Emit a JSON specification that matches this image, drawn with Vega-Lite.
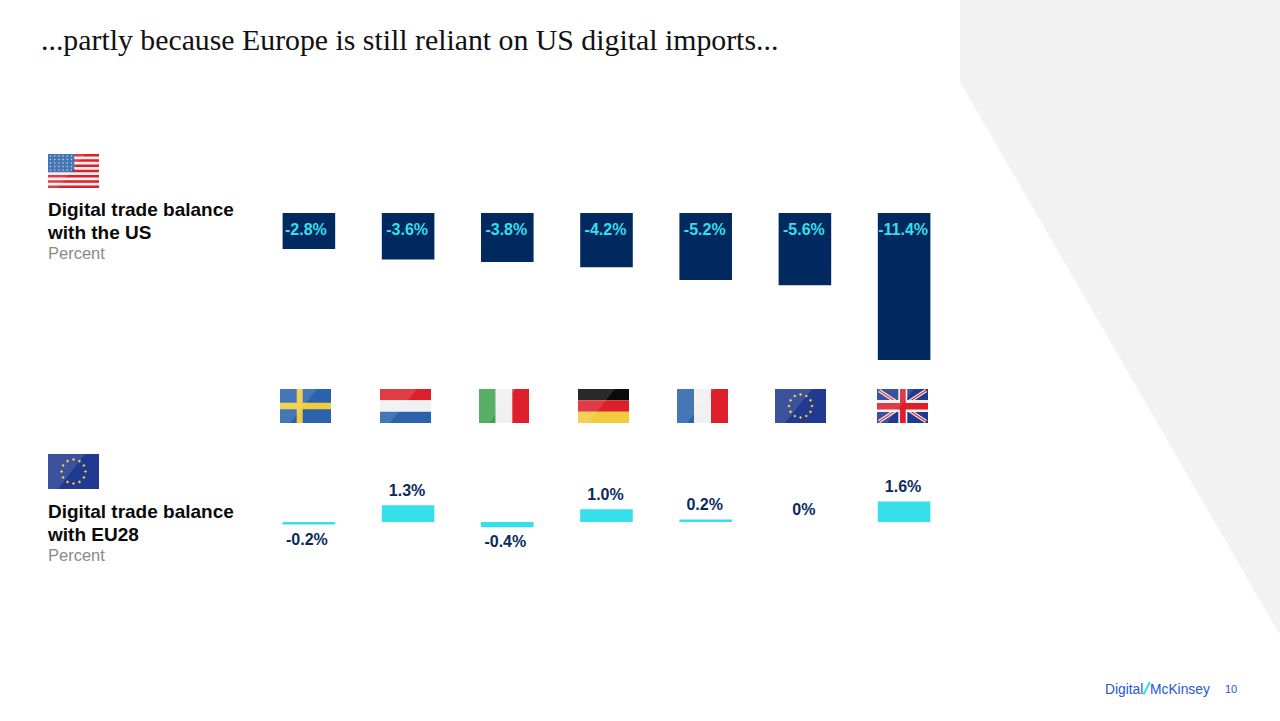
{"$schema":"https://vega.github.io/schema/vega-lite/v6.json","width":1280,"height":721,"padding":0,"autosize":{"type":"none"},"background":"#ffffff","title":{"text":"...partly because Europe is still reliant on US digital imports...","anchor":"start","frame":"group","dx":41,"offset":-80,"baseline":"alphabetic","font":"Liberation Serif","fontSize":29.8,"fontWeight":"normal","color":"#111111"},"config":{"view":{"stroke":null}},"datasets":{"values":[{"country":"Sweden","us":-2.8,"eu":-0.2,"usLabel":"-2.8%","euLabel":"-0.2%"},{"country":"Netherlands","us":-3.6,"eu":1.3,"usLabel":"-3.6%","euLabel":"1.3%"},{"country":"Italy","us":-3.8,"eu":-0.4,"usLabel":"-3.8%","euLabel":"-0.4%"},{"country":"Germany","us":-4.2,"eu":1.0,"usLabel":"-4.2%","euLabel":"1.0%"},{"country":"France","us":-5.2,"eu":0.2,"usLabel":"-5.2%","euLabel":"0.2%"},{"country":"EU","us":-5.6,"eu":0,"usLabel":"-5.6%","euLabel":"0%"},{"country":"UK","us":-11.4,"eu":1.6,"usLabel":"-11.4%","euLabel":"1.6%"}],"panel":[{"paint":"panel","sx":96,"sy":0,"sy2":8.2},{"paint":"panel","sx":128,"sy":0,"sy2":63.5}],"flags":[{"paint":"white","sx":4.8,"sx2":9.9,"sy":15.4,"sy2":18.8},{"paint":"red","sx":4.8,"sx2":9.9,"sy":15.4,"sy2":15.66},{"paint":"red","sx":4.8,"sx2":9.9,"sy":15.92,"sy2":16.18},{"paint":"red","sx":4.8,"sx2":9.9,"sy":16.45,"sy2":16.71},{"paint":"red","sx":4.8,"sx2":9.9,"sy":16.97,"sy2":17.23},{"paint":"red","sx":4.8,"sx2":9.9,"sy":17.49,"sy2":17.75},{"paint":"red","sx":4.8,"sx2":9.9,"sy":18.02,"sy2":18.28},{"paint":"red","sx":4.8,"sx2":9.9,"sy":18.54,"sy2":18.8},{"paint":"blue","sx":4.8,"sx2":7.43,"sy":15.4,"sy2":17.2},{"paint":"navy","sx":4.8,"sx2":9.9,"sy":45.4,"sy2":48.9},{"paint":"blue","sx":28.0,"sx2":33.1,"sy":38.9,"sy2":42.3},{"paint":"yellow","sx":29.67,"sx2":30.27,"sy":38.9,"sy2":42.3},{"paint":"yellow","sx":28.0,"sx2":33.1,"sy":40.27,"sy2":40.93},{"paint":"red","sx":38.0,"sx2":43.1,"sy":38.9,"sy2":40.03},{"paint":"white","sx":38.0,"sx2":43.1,"sy":40.03,"sy2":41.17},{"paint":"blue","sx":38.0,"sx2":43.1,"sy":41.17,"sy2":42.3},{"paint":"green","sx":47.9,"sx2":49.57,"sy":38.9,"sy2":42.3},{"paint":"white","sx":49.57,"sx2":51.23,"sy":38.9,"sy2":42.3},{"paint":"red","sx":51.23,"sx2":52.9,"sy":38.9,"sy2":42.3},{"paint":"black","sx":57.8,"sx2":62.9,"sy":38.9,"sy2":40.03},{"paint":"red","sx":57.8,"sx2":62.9,"sy":40.03,"sy2":41.17},{"paint":"yellow","sx":57.8,"sx2":62.9,"sy":41.17,"sy2":42.3},{"paint":"blue","sx":67.7,"sx2":69.4,"sy":38.9,"sy2":42.3},{"paint":"white","sx":69.4,"sx2":71.1,"sy":38.9,"sy2":42.3},{"paint":"red","sx":71.1,"sx2":72.8,"sy":38.9,"sy2":42.3},{"paint":"navy","sx":77.5,"sx2":82.6,"sy":38.9,"sy2":42.3},{"paint":"navy","sx":87.7,"sx2":92.8,"sy":38.9,"sy2":42.3}],"diagWhite":[{"paint":"white","sx":87.9,"sx2":92.6,"sy":39.05,"sy2":42.15},{"paint":"white","sx":87.9,"sx2":92.6,"sy":42.15,"sy2":39.05}],"diagRed":[{"paint":"red","sx":87.9,"sx2":92.6,"sy":39.05,"sy2":42.15},{"paint":"red","sx":87.9,"sx2":92.6,"sy":42.15,"sy2":39.05}],"cross":[{"paint":"white","sx":89.83,"sx2":90.73,"sy":38.9,"sy2":42.3},{"paint":"white","sx":87.7,"sx2":92.8,"sy":40.0,"sy2":41.2},{"paint":"red","sx":90.0,"sx2":90.57,"sy":38.9,"sy2":42.3},{"paint":"red","sx":87.7,"sx2":92.8,"sy":40.3,"sy2":40.95}],"sheen":[{"flag":"US","sx":4.8,"sy":15.4,"sy2":18.8},{"flag":"US","sx":5.8,"sy":15.4,"sy2":18.8},{"flag":"US","sx":8.5,"sy":15.4,"sy2":15.4},{"flag":"EU28","sx":4.8,"sy":45.4,"sy2":48.9},{"flag":"EU28","sx":5.8,"sy":45.4,"sy2":48.9},{"flag":"EU28","sx":8.5,"sy":45.4,"sy2":45.4},{"flag":"Sweden","sx":28.0,"sy":38.9,"sy2":42.3},{"flag":"Sweden","sx":29.0,"sy":38.9,"sy2":42.3},{"flag":"Sweden","sx":31.7,"sy":38.9,"sy2":38.9},{"flag":"Netherlands","sx":38.0,"sy":38.9,"sy2":42.3},{"flag":"Netherlands","sx":39.0,"sy":38.9,"sy2":42.3},{"flag":"Netherlands","sx":41.7,"sy":38.9,"sy2":38.9},{"flag":"Italy","sx":47.9,"sy":38.9,"sy2":42.3},{"flag":"Italy","sx":48.9,"sy":38.9,"sy2":42.3},{"flag":"Italy","sx":51.6,"sy":38.9,"sy2":38.9},{"flag":"Germany","sx":57.8,"sy":38.9,"sy2":42.3},{"flag":"Germany","sx":58.8,"sy":38.9,"sy2":42.3},{"flag":"Germany","sx":61.5,"sy":38.9,"sy2":38.9},{"flag":"France","sx":67.7,"sy":38.9,"sy2":42.3},{"flag":"France","sx":68.7,"sy":38.9,"sy2":42.3},{"flag":"France","sx":71.4,"sy":38.9,"sy2":38.9},{"flag":"EU","sx":77.5,"sy":38.9,"sy2":42.3},{"flag":"EU","sx":78.5,"sy":38.9,"sy2":42.3},{"flag":"EU","sx":81.2,"sy":38.9,"sy2":38.9},{"flag":"UK","sx":87.7,"sy":38.9,"sy2":42.3},{"flag":"UK","sx":88.7,"sy":38.9,"sy2":42.3},{"flag":"UK","sx":91.4,"sy":38.9,"sy2":38.9}],"goldStars":[{"paint":"yellow","sx":80.05,"sy":39.45},{"paint":"yellow","sx":80.63,"sy":39.6},{"paint":"yellow","sx":81.05,"sy":40.03},{"paint":"yellow","sx":81.2,"sy":40.6},{"paint":"yellow","sx":81.05,"sy":41.18},{"paint":"yellow","sx":80.63,"sy":41.6},{"paint":"yellow","sx":80.05,"sy":41.75},{"paint":"yellow","sx":79.48,"sy":41.6},{"paint":"yellow","sx":79.05,"sy":41.18},{"paint":"yellow","sx":78.9,"sy":40.6},{"paint":"yellow","sx":79.05,"sy":40.03},{"paint":"yellow","sx":79.48,"sy":39.6},{"paint":"yellow","sx":7.35,"sy":45.95},{"paint":"yellow","sx":7.95,"sy":46.11},{"paint":"yellow","sx":8.39,"sy":46.55},{"paint":"yellow","sx":8.55,"sy":47.15},{"paint":"yellow","sx":8.39,"sy":47.75},{"paint":"yellow","sx":7.95,"sy":48.19},{"paint":"yellow","sx":7.35,"sy":48.35},{"paint":"yellow","sx":6.75,"sy":48.19},{"paint":"yellow","sx":6.31,"sy":47.75},{"paint":"yellow","sx":6.15,"sy":47.15},{"paint":"yellow","sx":6.31,"sy":46.55},{"paint":"yellow","sx":6.75,"sy":46.11}],"whiteStars":[{"paint":"white","sx":5.05,"sy":15.6},{"paint":"white","sx":5.47,"sy":15.6},{"paint":"white","sx":5.89,"sy":15.6},{"paint":"white","sx":6.31,"sy":15.6},{"paint":"white","sx":6.73,"sy":15.6},{"paint":"white","sx":7.15,"sy":15.6},{"paint":"white","sx":5.05,"sy":15.95},{"paint":"white","sx":5.47,"sy":15.95},{"paint":"white","sx":5.89,"sy":15.95},{"paint":"white","sx":6.31,"sy":15.95},{"paint":"white","sx":6.73,"sy":15.95},{"paint":"white","sx":7.15,"sy":15.95},{"paint":"white","sx":5.05,"sy":16.3},{"paint":"white","sx":5.47,"sy":16.3},{"paint":"white","sx":5.89,"sy":16.3},{"paint":"white","sx":6.31,"sy":16.3},{"paint":"white","sx":6.73,"sy":16.3},{"paint":"white","sx":7.15,"sy":16.3},{"paint":"white","sx":5.05,"sy":16.65},{"paint":"white","sx":5.47,"sy":16.65},{"paint":"white","sx":5.89,"sy":16.65},{"paint":"white","sx":6.31,"sy":16.65},{"paint":"white","sx":6.73,"sy":16.65},{"paint":"white","sx":7.15,"sy":16.65},{"paint":"white","sx":5.05,"sy":17.0},{"paint":"white","sx":5.47,"sy":17.0},{"paint":"white","sx":5.89,"sy":17.0},{"paint":"white","sx":6.31,"sy":17.0},{"paint":"white","sx":6.73,"sy":17.0},{"paint":"white","sx":7.15,"sy":17.0}],"headings":[{"paint":"ink","sx":4.8,"sy":21.6,"text":"Digital trade balance"},{"paint":"ink","sx":4.8,"sy":23.9,"text":"with the US"},{"paint":"ink","sx":4.8,"sy":51.8,"text":"Digital trade balance"},{"paint":"ink","sx":4.8,"sy":54.1,"text":"with EU28"}],"units":[{"paint":"grey","sx":4.8,"sy":25.9,"text":"Percent"},{"paint":"grey","sx":4.8,"sy":56.1,"text":"Percent"}],"footer":[{"paint":"brand","sx":110.5,"sy":69.4,"text":"Digital"},{"paint":"brand","sx":115.0,"sy":69.4,"text":"McKinsey"}],"slash":[{"paint":"cyan","sx":114.35,"sx2":115.0,"sy":69.45,"sy2":68.2}],"page":[{"paint":"brand","sx":122.5,"sy":69.3,"text":"10"}]},"resolve":{"scale":{"x":"independent","y":"independent"}},"layer":[{"encoding":{"x":{"field":"sx","type":"quantitative","scale":{"domain":[0,128],"nice":false,"zero":false},"axis":null},"y":{"field":"sy","type":"quantitative","scale":{"domain":[0,72.1],"reverse":true,"nice":false,"zero":false},"axis":null},"color":{"field":"paint","type":"nominal","legend":null,"scale":{"domain":["panel","white","red","blue","navy","yellow","green","black","ink","grey","brand","cyan"],"range":["#f2f2f2","#f0f0f0","#dc1f2a","#2a62ab","#21398f","#f0cb3c","#3fa34d","#0a0a0a","#0a0a0a","#8a8a8a","#2456d6","#36dfe9"]}}},"layer":[{"data":{"name":"panel"},"mark":{"type":"area","opacity":1},"encoding":{"y2":{"field":"sy2"}}},{"data":{"name":"flags"},"mark":{"type":"rect"},"encoding":{"x2":{"field":"sx2"},"y2":{"field":"sy2"}}},{"data":{"name":"diagWhite"},"mark":{"type":"rule","strokeWidth":3.4},"encoding":{"x2":{"field":"sx2"},"y2":{"field":"sy2"}}},{"data":{"name":"diagRed"},"mark":{"type":"rule","strokeWidth":1.3},"encoding":{"x2":{"field":"sx2"},"y2":{"field":"sy2"}}},{"data":{"name":"cross"},"mark":{"type":"rect"},"encoding":{"x2":{"field":"sx2"},"y2":{"field":"sy2"}}},{"data":{"name":"goldStars"},"mark":{"type":"point","filled":true,"shape":"diamond","size":10,"opacity":1}},{"data":{"name":"whiteStars"},"mark":{"type":"point","filled":true,"shape":"circle","size":2,"opacity":0.8}},{"data":{"name":"sheen"},"mark":{"type":"area","color":"#ffffff","opacity":0.13},"encoding":{"color":{"value":"#ffffff"},"y2":{"field":"sy2"},"detail":{"field":"flag"}}},{"data":{"name":"headings"},"mark":{"type":"text","align":"left","baseline":"alphabetic","font":"Liberation Sans","fontWeight":"bold","fontSize":19},"encoding":{"text":{"field":"text"}}},{"data":{"name":"units"},"mark":{"type":"text","align":"left","baseline":"alphabetic","font":"Liberation Sans","fontSize":16.5},"encoding":{"text":{"field":"text"}}},{"data":{"name":"footer"},"mark":{"type":"text","align":"left","baseline":"alphabetic","font":"Liberation Sans","fontSize":13.8},"encoding":{"text":{"field":"text"}}},{"data":{"name":"slash"},"mark":{"type":"rule","strokeWidth":2},"encoding":{"x2":{"field":"sx2"},"y2":{"field":"sy2"}}},{"data":{"name":"page"},"mark":{"type":"text","align":"left","baseline":"alphabetic","font":"Liberation Sans","fontSize":11},"encoding":{"text":{"field":"text"}}}]},{"data":{"name":"values"},"encoding":{"x":{"field":"country","type":"nominal","sort":null,"axis":null,"scale":{"range":[259.3,953.7],"paddingInner":0.47,"paddingOuter":0.235}},"y":{"field":"us","type":"quantitative","axis":null,"scale":{"domain":[-11.4,0],"range":[360,213],"nice":false}}},"layer":[{"mark":{"type":"bar","color":"#002960"}},{"transform":[{"filter":"datum.country !== 'Sweden'"}],"mark":{"type":"text","font":"Liberation Sans","fontWeight":"bold","fontSize":16,"color":"#36dfe9","baseline":"middle","dx":-1,"dy":17},"encoding":{"y":{"datum":0},"text":{"field":"usLabel"}}},{"transform":[{"filter":"datum.country === 'Sweden'"}],"mark":{"type":"text","font":"Liberation Sans","fontWeight":"bold","fontSize":16,"color":"#36dfe9","baseline":"middle","dx":-3,"dy":17},"encoding":{"y":{"datum":0},"text":{"field":"usLabel"}}}]},{"data":{"name":"values"},"encoding":{"x":{"field":"country","type":"nominal","sort":null,"axis":null,"scale":{"range":[259.3,953.7],"paddingInner":0.47,"paddingOuter":0.235}},"y":{"field":"eu","type":"quantitative","axis":null,"scale":{"domain":[-0.4,1.6],"range":[527.2,501.4],"nice":false}}},"layer":[{"mark":{"type":"bar","color":"#36dfe9"}},{"transform":[{"filter":"datum.eu > 0"}],"mark":{"type":"text","font":"Liberation Sans","fontWeight":"bold","fontSize":16,"color":"#0a2a5e","baseline":"middle","dx":-1,"dy":-14},"encoding":{"text":{"field":"euLabel"}}},{"transform":[{"filter":"datum.eu < 0"}],"mark":{"type":"text","font":"Liberation Sans","fontWeight":"bold","fontSize":16,"color":"#0a2a5e","baseline":"middle","dx":-2,"dy":15},"encoding":{"text":{"field":"euLabel"}}},{"transform":[{"filter":"datum.eu === 0"}],"mark":{"type":"text","font":"Liberation Sans","fontWeight":"bold","fontSize":16,"color":"#0a2a5e","baseline":"middle","dx":-1,"dy":-12},"encoding":{"text":{"field":"euLabel"}}}]}]}
